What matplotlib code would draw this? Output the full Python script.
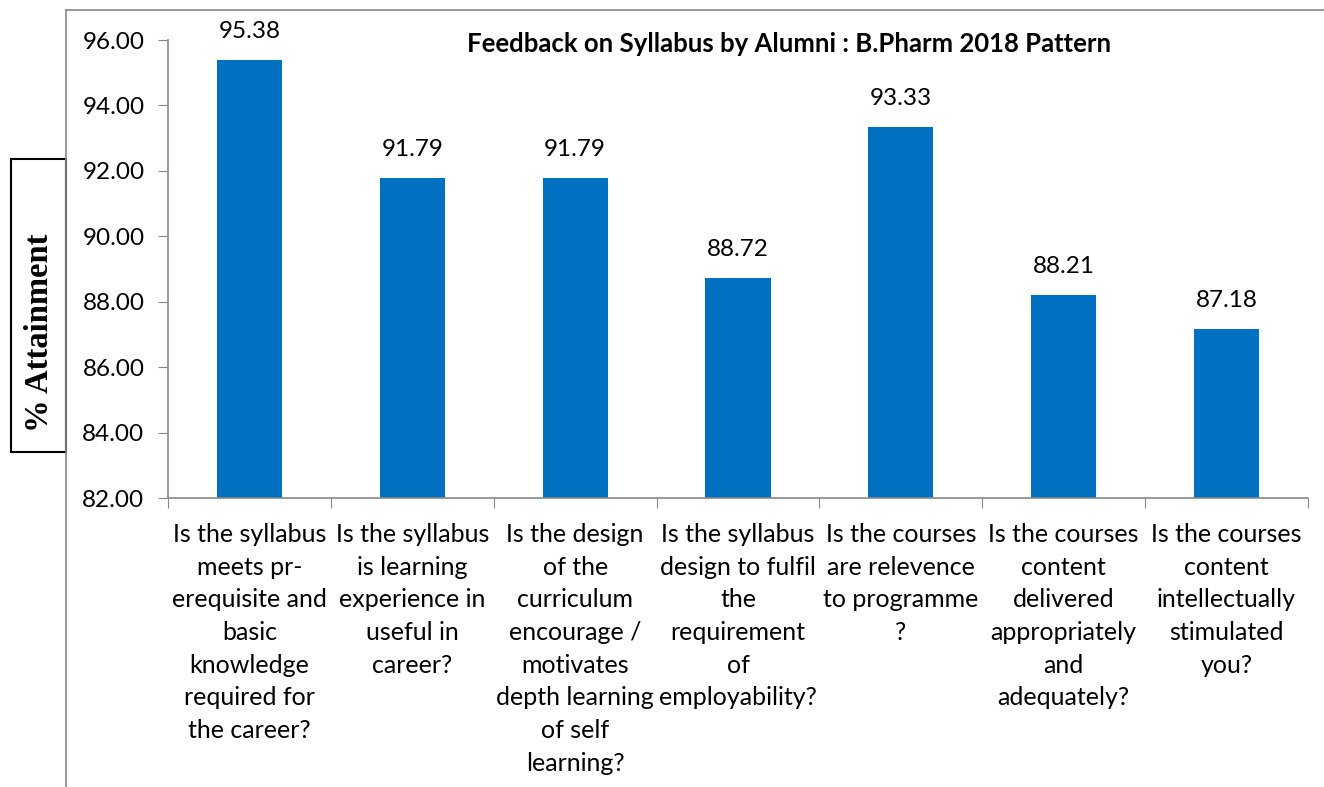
import matplotlib.pyplot as plt
from matplotlib.patches import Rectangle
from matplotlib.lines import Line2D

questions = [
    "Is the syllabus\nmeets pr-\nerequisite and\nbasic\nknowledge\nrequired for\nthe career?",
    "Is the syllabus\nis learning\nexperience in\nuseful in\ncareer?",
    "Is the design\nof the\ncurriculum\nencourage /\nmotivates\ndepth learning\nof self\nlearning?",
    "Is the syllabus\ndesign to fulfil\nthe\nrequirement\nof\nemployability?",
    "Is the courses\nare relevence\nto programme\n?",
    "Is the courses\ncontent\ndelivered\nappropriately\nand\nadequately?",
    "Is the courses\ncontent\nintellectually\nstimulated\nyou?",
]
attainment = [95.38, 91.79, 91.79, 88.72, 93.33, 88.21, 87.18]
y_ticks = [82, 84, 86, 88, 90, 92, 94, 96]

plt.rcParams['font.family'] = ['Lato', 'DejaVu Sans']
fs = 17.5

fig = plt.figure(figsize=(13.24, 7.87), dpi=100)
fig.set_facecolor('white')
ax = fig.add_axes([168/1324, 1 - 498/787, 1140/1324, 458/787])

x = list(range(len(attainment)))
ax.bar(x, attainment, width=0.4, color='#0070C0', zorder=2)
for xi, v in zip(x, attainment):
    ax.text(xi, v + 0.55, f"{v:.2f}", ha='center', va='bottom', fontsize=fs)

ax.set_xlim(-0.5, len(attainment) - 0.5)
ax.set_ylim(82, 96)
ax.set_yticks(y_ticks)
ax.set_yticklabels([f"{t:.2f}" for t in y_ticks], fontsize=fs)

ax.set_xticks([i - 0.5 for i in range(len(attainment) + 1)])
ax.set_xticklabels([])
ax.set_xticks(x, minor=True)
ax.set_xticklabels(questions, minor=True, fontsize=18, linespacing=1.51, va='top')
ax.tick_params(axis='x', which='minor', length=0, pad=18)
ax.tick_params(axis='x', which='major', length=7, color='#888888')
ax.tick_params(axis='y', length=7, color='#888888', pad=10)

for side in ['top', 'right']:
    ax.spines[side].set_visible(False)
for side in ['left', 'bottom']:
    ax.spines[side].set_color('#888888')
    ax.spines[side].set_linewidth(1.2)

ax.set_title("Feedback on Syllabus by Alumni : B.Pharm 2018 Pattern",
             fontsize=18.5, fontweight='bold', x=0.545, y=0.955)

# chart frame lines
fig.add_artist(Line2D([66/1324, 66/1324], [0, 1 - 10/787], color='#888888', lw=1.2))
fig.add_artist(Line2D([66/1324, 1], [1 - 10/787, 1 - 10/787], color='#888888', lw=1.2))

# boxed y label
fig.add_artist(Rectangle((11/1324, 1 - 452/787), 55/1324, 293/787,
                         fill=False, edgecolor='black', lw=1.5))
fig.text(40/1324, 1 - 333/787, "% Attainment", rotation=90, ha='center', va='center',
         fontsize=23.5, fontweight='bold', family=['Liberation Serif'])

fig.savefig('out.png', dpi=100)
